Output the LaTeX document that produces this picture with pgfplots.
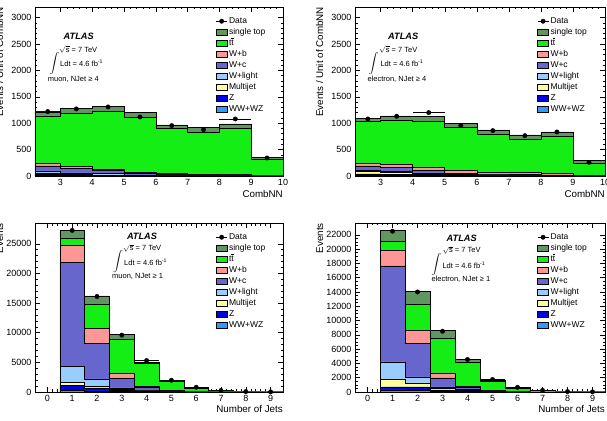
\documentclass[border=0pt]{standalone}
\usepackage{fontspec}
\setmainfont{Liberation Sans}
\usepackage{pgfplots}
\usepackage{pgfplotstable}
\pgfplotsset{compat=1.18}

\definecolor{cST}{RGB}{96,150,96}
\definecolor{cTT}{RGB}{20,238,20}
\definecolor{cWB}{RGB}{255,150,150}
\definecolor{cWC}{RGB}{102,102,204}
\definecolor{cWL}{RGB}{153,204,255}
\definecolor{cMJ}{RGB}{255,255,153}
\definecolor{cZ}{RGB}{0,0,230}
\definecolor{cWW}{RGB}{51,153,255}

% muon, NJet >= 4 (CombNN)
\pgfplotstableread{
x    ww  z   mj  wl  wc  wb  tt    st
2.2  15  20  15  45  95  45  902   76
3    10  12  10  28  85  32  1011  94
4    8   8   6   20  59  32  1086  95
5    4   4   4   10  24  30  1036  88
6    3   3   2   6   14  16  859   63
7    2   2   2   5   12  15  790   88
8    2   2   2   5   10  14  868   82
9    1   1   1   1   3   3   306   31
10   1   1   1   1   3   3   306   31
}\tMuFour
\pgfplotstableread{
x    y     ex   ey
2.6  1220  0.4  35
3.5  1270  0.5  36
4.5  1308  0.5  36
5.5  1118  0.5  33
6.5  954   0.5  31
7.5  878   0.5  30
8.5  1080  0.5  33
9.5  341   0.5  18
}\dMuFour

% electron, NJet >= 4 (CombNN)
\pgfplotstableread{
x    ww  z   mj  wl  wc  wb  tt    st
2.2  15  25  40  25  85  50  790   63
3    12  20  30  20  76  63  840   76
4    8   15  20  15  43  63  878   89
5    5   8   10  8   20  63  802   82
6    3   5   6   5   12  45  714   82
7    2   4   5   4   10  38  638   76
8    2   3   4   3   8   30  695   89
9    1   1   2   1   2   3   230   51
10   1   1   2   1   2   3   230   51
}\tElFour
\pgfplotstableread{
x    y     ex   ey
2.6  1080  0.4  33
3.5  1131  0.5  34
4.5  1200  0.5  35
5.5  954   0.5  31
6.5  859   0.5  29
7.5  764   0.5  28
8.5  834   0.5  29
9.5  259   0.5  16
}\dElFour

% muon, NJet >= 1 (Number of jets)
\pgfplotstableread{
x    ww   z    mj   wl    wc     wb    tt    st
0.5  300  800  550  2650  17500  3000  1200  1200
1.5  200  500  200  1300  5980   2540  4065  1410
2.5  150  200  100  250   1560   840   5820  780
3.5  60   80   50   120   450    200   3840  280
4.5  20   30   20   40    120    70    1560  115
5.5  5    8    5    10    30     20    590   60
6.5  2    2    2    3     8      5     180   20
7.5  1    1    1    1     2      1     50    6
8.5  0    0    0    0     1      0     12    2
9.5  0    0    0    0     1      0     12    2
}\tMuOne
\pgfplotstableread{
x  y      ex   ey
1  27250  0.5  165
2  16100  0.5  127
3  9590   0.5  98
4  5300   0.5  73
5  1975   0.5  44
6  800    0.5  28
7  250    0.5  16
8  70     0.5  8
9  20     0.5  4
}\dMuOne

% electron, NJet >= 1 (Number of jets)
\pgfplotstableread{
x    ww   z    mj    wl    wc     wb    tt    st
0.5  300  400  1030  2480  13440  2150  1270  1500
1.5  250  450  560   850   4680   1870  3600  1780
2.5  100  200  200   200   1270   700   4910  990
3.5  50   90   100   110   300    150   3410  380
4.5  15   30   40    40    100    60    1250  105
5.5  4    8    10    10    30     18    470   60
6.5  1    2    3     3     8      5     155   15
7.5  0    1    1     1     2      1     42    5
8.5  0    0    0     0     0      0     10    2
9.5  0    0    0     0     0      0     10    2
}\tElOne
\pgfplotstableread{
x  y      ex   ey
1  22500  0.5  150
2  14000  0.5  118
3  8500   0.5  92
4  4550   0.5  67
5  1750   0.5  42
6  650    0.5  25
7  220    0.5  15
8  60     0.5  8
9  15     0.5  4
}\dElOne

\pgfplotsset{
  boxleg/.style={legend image code/.code={\draw[##1] (0pt,-3.4pt) rectangle (11pt,3.4pt);}},
  stk/.style={const plot mark left, fill=#1, draw=black, line width=0.6pt, boxleg},
  datapt/.style={stack plots=false, black, only marks, mark=*, mark size=2.2pt,
    legend image code/.code={\draw[black,line width=0.8pt] (0pt,0pt) -- (11pt,0pt);
      \fill[black] (5.5pt,0pt) circle (2.2pt);},
    error bars/.cd, x dir=both, x explicit, y dir=both, y explicit,
    error bar style={line width=0.8pt, black}, error mark=none},
  panel/.style={scale only axis, height=169pt, anchor=south west,
    tick align=inside, major tick length=5pt, minor tick length=2.5pt,
    axis line style={line width=0.7pt}, every tick/.style={black, line width=0.5pt},
    tick label style={font=\fontsize{9}{9}\selectfont},
    /pgf/number format/assume math mode=true, /pgf/number format/1000 sep={},
    scaled y ticks=false, stack plots=y, ymin=0,
    reverse legend, legend cell align=left,
    legend style={at={(0.728,0.945)}, anchor=north west, draw=none, fill=none,
      inner sep=0pt, row sep=1.5pt, column sep=1pt,
      font=\fontsize{8.5}{8.5}\selectfont,
      nodes={inner sep=0.5pt, text height=6.5pt, text depth=2pt}},
  },
  nnpanel/.style={panel, xmin=2.2, xmax=10, ymax=3200, xtick={3,...,10},
    ytick={0,500,...,3000}, minor x tick num=4, minor y tick num=4},
  njpanel/.style={panel, xmin=-0.5, xmax=9.5, xtick={0,...,9}, minor x tick num=4},
}

\newcommand\stackplots[1]{%
  \addplot[stk=cWW] table[x=x,y=ww]{#1} \closedcycle; \addlegendentry{WW+WZ}
  \addplot[stk=cZ]  table[x=x,y=z]{#1}  \closedcycle; \addlegendentry{Z}
  \addplot[stk=cMJ] table[x=x,y=mj]{#1} \closedcycle; \addlegendentry{Multijet}
  \addplot[stk=cWL] table[x=x,y=wl]{#1} \closedcycle; \addlegendentry{W+light}
  \addplot[stk=cWC] table[x=x,y=wc]{#1} \closedcycle; \addlegendentry{W+c}
  \addplot[stk=cWB] table[x=x,y=wb]{#1} \closedcycle; \addlegendentry{W+b}
  \addplot[stk=cTT] table[x=x,y=tt]{#1} \closedcycle; \addlegendentry{t$\overline{\hbox{t}}$}
  \addplot[stk=cST] table[x=x,y=st]{#1} \closedcycle; \addlegendentry{single top}
}

\newcommand\atlasblock[9]{%
  \node[font=\fontsize{9.2}{10}\selectfont\bfseries\itshape, inner sep=0pt] at (#1pt,#2pt) {ATLAS};
  \node[font=\fontsize{7.5}{9}\selectfont, inner sep=0pt, anchor=west] at (#3pt,#4pt) {$\sqrt{\hbox{s}}$ = 7 TeV};
  \node[font=\fontsize{8.2}{9}\selectfont, inner sep=0pt] at (#5pt,#6pt) {$\displaystyle\int$};
  \node[font=\fontsize{7.5}{9}\selectfont, inner sep=0pt, anchor=west] at (#7) {Ldt = 4.6 fb\textsuperscript{-1}};
  \node[font=\fontsize{7.5}{9}\selectfont, inner sep=0pt, anchor=west] at (#8) {#9};
}

\begin{document}
\begin{tikzpicture}
\path[use as bounding box] (0pt,0pt) rectangle (607pt,420pt);

% top left
\begin{axis}[nnpanel, width=248pt, at={(35pt,244pt)}]
  \stackplots{\tMuFour}
  \addplot[datapt] table[x=x,y=y,x error=ex,y error=ey]{\dMuFour}; \addlegendentry{Data}
\end{axis}
% top right
\begin{axis}[nnpanel, width=250pt, at={(355pt,244pt)}]
  \stackplots{\tElFour}
  \addplot[datapt] table[x=x,y=y,x error=ex,y error=ey]{\dElFour}; \addlegendentry{Data}
\end{axis}
% bottom left
\begin{axis}[njpanel, width=248pt, at={(35pt,28pt)}, ymax=28500,
   ytick={0,5000,...,25000}, minor y tick num=4]
  \stackplots{\tMuOne}
  \addplot[datapt] table[x=x,y=y,x error=ex,y error=ey]{\dMuOne}; \addlegendentry{Data}
\end{axis}
% bottom right
\begin{axis}[njpanel, width=250pt, at={(355pt,28pt)}, ymax=23650,
   ytick={0,2000,...,22000}, minor y tick num=3]
  \stackplots{\tElOne}
  \addplot[datapt] table[x=x,y=y,x error=ex,y error=ey]{\dElOne}; \addlegendentry{Data}
\end{axis}

% axis titles
\begin{scope}[every node/.style={font=\fontsize{9.8}{10}\selectfont, inner sep=0pt}]
  \node[anchor=east] at (283pt,226pt) {CombNN};
  \node[anchor=east] at (605pt,226pt) {CombNN};
  \node[anchor=east] at (283pt,11pt) {Number of Jets};
  \node[anchor=east] at (605pt,11pt) {Number of Jets};
  \node[rotate=90, anchor=east] at (-0.3pt,413pt) {Events / Unit of CombNN};
  \node[rotate=90, anchor=east] at (319.7pt,413pt) {Events / Unit of CombNN};
  \node[rotate=90, anchor=east] at (-0.3pt,197pt) {Events};
  \node[rotate=90, anchor=east] at (319.7pt,197pt) {Events};
\end{scope}

\atlasblock{78.7}{384}{59}{370.2}{54.3}{356}{60pt,357pt}{47.7pt,341pt}{muon, NJet ≥ 4}
\atlasblock{403.2}{384}{379}{370.2}{373.5}{356}{380.3pt,357pt}{367.3pt,341pt}{electron, NJet ≥ 4}
\atlasblock{142}{183.8}{123}{171.8}{118}{158}{124pt,158pt}{112pt,143.5pt}{muon, NJet ≥ 1}
\atlasblock{461.7}{181.5}{442.3}{169.8}{436.3}{155}{442.3pt,155pt}{431.3pt,140.3pt}{electron, NJet ≥ 1}
\end{tikzpicture}
\end{document}
